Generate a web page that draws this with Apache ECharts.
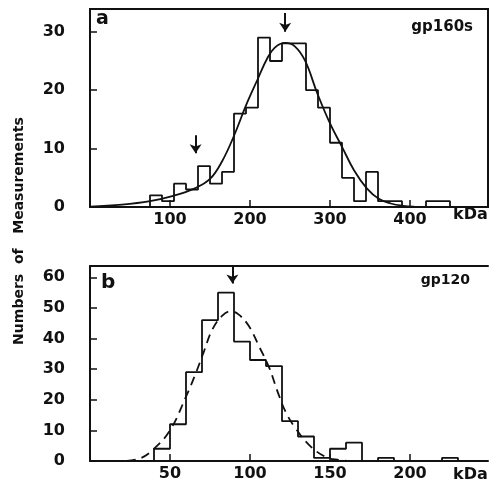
<!DOCTYPE html>
<html>
<head>
<meta charset="utf-8">
<script src="https://cdn.jsdelivr.net/npm/echarts@6/dist/echarts.min.js"></script>
<style>
html,body{margin:0;padding:0;background:#fff;}
#chart{width:489px;height:482px;}
</style>
</head>
<body>
<div id="chart"></div>
<script>
// ---- Panel a (gp160s) ----
const edgesA = [75,90,105,120,135,150,165,180,195,210,225,240,255,270,285,300,315,330,345,360,375,390,405,420,435,450];
const countsA = [2,1,4,3,7,4,6,16,17,29,25,28,28,20,17,11,5,1,6,1,1,0,0,1,1];
const fitA = [[0,0.05],[40,0.4],[75,1.0],[104,1.9],[131,3.2],[150,4.8],[165,7.8],[180,12.2],[195,17.4],[210,22],[221,25.3],[231,27.3],[244,28.1],[256,27.5],[269,25],[284,19.5],[300,14.3],[315,10.3],[330,6.3],[346,3.2],[361,1.4],[376,0.6],[391,0.2],[405,0.05]];
const arrowsA = [[132,12.3,9.2],[244,33.2,30.0]];
const xTicksA = [100,200,300,400];
const yTicksA = [0,10,20,30];

// ---- Panel b (gp120) ----
const edgesB = [40,50,60,70,80,90,100,110,120,130,140,150,160,170,180,190,200,210,220,230];
const countsB = [4,12,29,46,55,39,33,31,13,8,1,4,6,0,1,0,0,0,1];
const fitB = [[23,0],[32,1],[40,4],[50,10],[60,21],[66,28.5],[71,35.5],[76.5,43],[82.7,47.5],[88,48.9],[93,47.8],[99.4,44],[105.6,37.5],[112,30.5],[117,23],[122.3,16],[128.6,10.6],[137,5.2],[147,1.4],[156,0.3],[162,0]];
const arrowsB = [[89,63.4,58.0]];
const xTicksB = [50,100,150,200];
const yTicksB = [0,10,20,30,40,50,60];

function outline(edges, counts){
  const pts = [[edges[0],0]];
  for(let i=0;i<counts.length;i++){
    pts.push([edges[i],counts[i]]);
    pts.push([edges[i+1],counts[i]]);
  }
  pts.push([edges[edges.length-1],0]);
  return pts;
}
function arrowLines(arr){
  return arr.map(a => [{coord:[a[0],a[1]]},{coord:[a[0],a[2]]}]);
}

const FONT = '"DejaVu Sans", sans-serif';
const K = '#111';
const labelStyle = {color:K, fontFamily:FONT, fontWeight:'bold', fontSize:16};

function xAxis(grid, max, ticks, margin){
  return {
    type:'value', gridIndex:grid, min:0, max:max,
    axisLine:{show:true, onZero:false, lineStyle:{color:K, width:2}},
    axisTick:{show:true, inside:true, length:7, lineStyle:{color:K, width:1.5}, customValues:ticks},
    axisLabel:Object.assign({show:true, margin:margin, customValues:ticks}, labelStyle),
    splitLine:{show:false}
  };
}
function yAxis(grid, max, ticks){
  return {
    type:'value', gridIndex:grid, min:0, max:max,
    axisLine:{show:true, onZero:false, lineStyle:{color:K, width:2}},
    axisTick:{show:true, inside:true, length:7, lineStyle:{color:K, width:1.5}, customValues:ticks},
    axisLabel:Object.assign({show:true, margin:25, customValues:ticks}, labelStyle),
    splitLine:{show:false}
  };
}

const arrowStyle = {
  silent:true, symbol:['none','arrow'], symbolSize:9, precision:2,
  label:{show:false}, lineStyle:{color:K, width:2, type:'solid'},
  itemStyle:{color:K}, emphasis:{disabled:true}
};

function txt(text, x, y, size, align, extra){
  return Object.assign({
    type:'text', x:x, y:y, silent:true,
    style:{text:text, fill:K, font:'bold '+size+'px '+FONT, align:align, textAlign:align, verticalAlign:'middle', textVerticalAlign:'middle'}
  }, extra||{});
}

const option = {
  animation:false,
  backgroundColor:'#fff',
  grid:[
    {left:90, right:1, top:9, height:198, show:true, borderColor:K, borderWidth:2, backgroundColor:'transparent'},
    {left:90, right:1, top:266, height:197}
  ],
  xAxis:[
    xAxis(0, 497.5, xTicksA, 5),
    xAxis(1, 248.75, xTicksB, 5),
    {type:'value', gridIndex:1, position:'top', min:0, max:248.75,
     axisLine:{show:true, onZero:false, lineStyle:{color:K, width:2}},
     axisTick:{show:false}, axisLabel:{show:false}, splitLine:{show:false}}
  ],
  yAxis:[
    yAxis(0, 33.9, yTicksA),
    yAxis(1, 63.7, yTicksB)
  ],
  series:[
    {type:'line', xAxisIndex:0, yAxisIndex:0, data:outline(edgesA,countsA), showSymbol:false, silent:true,
     lineStyle:{color:K, width:1.8}, markLine:Object.assign({data:arrowLines(arrowsA)}, arrowStyle)},
    {type:'line', xAxisIndex:0, yAxisIndex:0, data:fitA, smooth:0.4, showSymbol:false, silent:true,
     lineStyle:{color:K, width:1.8}},
    {type:'line', xAxisIndex:1, yAxisIndex:1, data:outline(edgesB,countsB), showSymbol:false, silent:true,
     lineStyle:{color:K, width:1.8}, markLine:Object.assign({data:arrowLines(arrowsB)}, arrowStyle)},
    {type:'line', xAxisIndex:1, yAxisIndex:1, data:fitB, smooth:0.4, showSymbol:false, silent:true,
     lineStyle:{color:K, width:1.8, type:[9,6]}}
  ],
  graphic:[
    txt('a', 96, 19.5, 19, 'left'),
    txt('b', 101, 283, 20, 'left'),
    txt('gp160s', 473, 27, 15, 'right'),
    txt('gp120', 470, 280, 14, 'right'),
    txt('kDa', 453, 215, 16, 'left'),
    txt('kDa', 453, 475, 16, 'left'),
    txt('Numbers  of   Measurements', 19, 231, 14, 'center', {rotation:Math.PI/2})
  ]
};

const chart = echarts.init(document.getElementById('chart'), null, {renderer:'canvas'});
chart.setOption(option);
</script>
</body>
</html>
